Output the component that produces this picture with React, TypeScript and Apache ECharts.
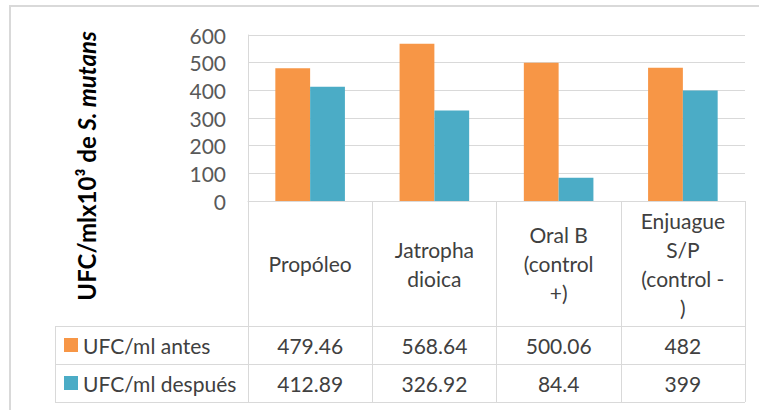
import React, { useEffect, useRef } from "react";
import * as echarts from "echarts";

const categories = ["Propóleo", "Jatropha\ndioica", "Oral B\n(control\n+)", "Enjuague\nS/P\n(control -\n)"];
const seriesNames = ["UFC/ml antes", "UFC/ml después"];
const antes = [479.46, 568.64, 500.06, 482];
const despues = [412.89, 326.92, 84.4, 399];
const yMin = 0;
const yMax = 600;
const yInterval = 100;
const yTitleMain = "UFC/mlx10³ de ";
const yTitleItalic = "S. mutans";

const COLORS = ["#F79646", "#4BACC6"];
const FONT = "Lato";
const GRID = { left: 248, top: 35, width: 497, height: 166 };
const HEADER_H = 125;
const ROW_H = 38;
const TABLE_LEFT = 55;
const LINE = "#d9d9d9";
const TEXT = "#404040";

export default function App() {
  const ref = useRef<HTMLDivElement>(null);
  useEffect(() => {
    if (!ref.current) return;
    const chart = echarts.init(ref.current, undefined, { renderer: "svg" });
    const bottom = GRID.top + GRID.height;
    const right = GRID.left + GRID.width;
    const r1 = bottom + HEADER_H;
    const r2 = r1 + ROW_H;
    const r3 = r2 + ROW_H;
    const fs = 21;
    chart.setOption({
      animation: false,
      textStyle: { fontFamily: FONT },
      grid: { left: GRID.left, top: GRID.top, width: GRID.width, height: GRID.height, containLabel: false },
      legend: {
        orient: "vertical",
        left: 64,
        top: r1 + ROW_H / 2 - 12,
        padding: 0,
        itemWidth: 14,
        itemHeight: 14,
        itemGap: ROW_H - 24,
        icon: "rect",
        data: seriesNames,
        textStyle: { fontSize: fs, color: TEXT, lineHeight: 24, fontFamily: FONT },
      },
      xAxis: [
        {
          type: "category",
          data: categories,
          position: "bottom",
          axisLine: { show: true, lineStyle: { color: LINE, width: 1 } },
          axisTick: { show: true, length: HEADER_H + 2 * ROW_H, lineStyle: { color: LINE, width: 1 } },
          axisLabel: {
            interval: 0,
            margin: HEADER_H / 2,
            verticalAlign: "middle",
            fontSize: fs,
            lineHeight: 29,
            color: TEXT,
            fontFamily: FONT,
          },
          splitLine: { show: false },
        },
        {
          type: "category",
          data: antes.map(String),
          position: "bottom",
          offset: HEADER_H,
          axisLine: { show: false },
          axisTick: { show: false },
          axisLabel: { interval: 0, margin: ROW_H / 2, verticalAlign: "middle", fontSize: fs, color: TEXT, fontFamily: FONT },
        },
        {
          type: "category",
          data: despues.map(String),
          position: "bottom",
          offset: HEADER_H + ROW_H,
          axisLine: { show: false },
          axisTick: { show: false },
          axisLabel: { interval: 0, margin: ROW_H / 2, verticalAlign: "middle", fontSize: fs, color: TEXT, fontFamily: FONT },
        },
      ],
      yAxis: {
        type: "value",
        min: yMin,
        max: yMax,
        interval: yInterval,
        axisLine: { show: true, lineStyle: { color: LINE, width: 1 } },
        axisTick: { show: false },
        axisLabel: { margin: 22, fontSize: fs, color: "#595959", fontFamily: FONT },
        splitLine: { show: true, lineStyle: { color: LINE, width: 1 } },
      },
      series: [
        {
          name: seriesNames[0],
          type: "bar",
          xAxisIndex: 0,
          data: antes,
          itemStyle: { color: COLORS[0] },
          barGap: "0%",
          barCategoryGap: "44%",
        },
        {
          name: seriesNames[1],
          type: "bar",
          xAxisIndex: 0,
          data: despues,
          itemStyle: { color: COLORS[1] },
          barGap: "0%",
          barCategoryGap: "44%",
        },
      ],
      graphic: [
        {
          type: "rect",
          shape: { x: 10, y: 6, width: 800, height: 500 },
          style: { fill: "none", stroke: LINE, lineWidth: 2 },
          silent: true,
        },
        ...[r1, r2, r3].map((y) => ({
          type: "line",
          shape: { x1: TABLE_LEFT, y1: y + 0.5, x2: right, y2: y + 0.5 },
          style: { stroke: LINE, lineWidth: 1 },
          silent: true,
        })),
        {
          type: "line",
          shape: { x1: TABLE_LEFT + 0.5, y1: r1, x2: TABLE_LEFT + 0.5, y2: r3 },
          style: { stroke: LINE, lineWidth: 1 },
          silent: true,
        },
        {
          type: "text",
          x: 86,
          y: 166,
          rotation: Math.PI / 2,
          style: {
            text: `{b|${yTitleMain}}{i|${yTitleItalic}}`,
            align: "center",
            verticalAlign: "middle",
            rich: {
              b: { fontSize: 24, fontWeight: "bold", fontFamily: FONT, fill: "#000" },
              i: { fontSize: 24, fontWeight: "bold", fontStyle: "italic", fontFamily: FONT, fill: "#000" },
            },
          },
          silent: true,
        },
      ],
    });
    return () => chart.dispose();
  }, []);
  return <div ref={ref} style={{ position: "fixed", left: 0, top: 0, width: 759, height: 410, background: "#fff" }} />;
}
